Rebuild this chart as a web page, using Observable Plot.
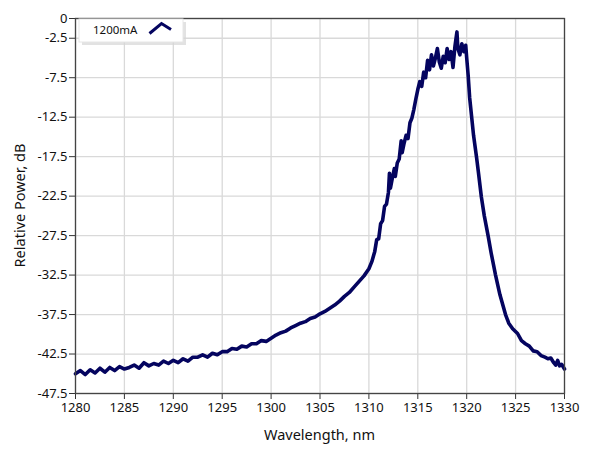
<!DOCTYPE html>
<html>
<head>
<meta charset="utf-8">
<script src="https://cdn.jsdelivr.net/npm/d3@7"></script>
<script src="https://cdn.jsdelivr.net/npm/@observablehq/plot@0.6"></script>
<style>
  html, body { margin: 0; padding: 0; background: #fff; }
  #chart { width: 589px; height: 456px; }
  svg { font-family: "Segoe UI", "Noto Sans", "Open Sans", sans-serif; }
</style>
</head>
<body>
<div id="chart"></div>
<script>
// ---- data ----
const seriesName = "1200mA";
const xLabel = "Wavelength, nm";
const yLabel = "Relative Power, dB";
const wavelength = [
  1280.0,1280.5,1281.0,1281.5,1282.0,1282.5,1283.0,1283.5,1284.0,1284.5,
  1285.0,1285.5,1286.0,1286.5,1287.0,1287.5,1288.0,1288.5,1289.0,1289.5,
  1290.0,1290.5,1291.0,1291.5,1292.0,1292.5,1293.0,1293.5,1294.0,1294.5,
  1295.0,1295.5,1296.0,1296.5,1297.0,1297.5,1298.0,1298.5,1299.0,1299.5,
  1300.0,1300.5,1301.0,1301.5,1302.0,1302.5,1303.0,1303.5,1304.0,1304.5,
  1305.0,1305.5,1306.0,1306.5,1307.0,1307.5,1308.0,1308.5,1309.0,1309.5,
  1310.0,1310.3,1310.6,1310.8,1311.0,1311.2,1311.4,1311.6,1311.8,1312.0,
  1312.1,1312.2,1312.4,1312.6,1312.7,1312.9,1313.1,1313.3,1313.4,1313.6,
  1313.8,1314.0,1314.2,1314.4,1314.6,1314.8,1315.0,1315.2,1315.4,1315.6,
  1315.8,1316.0,1316.2,1316.4,1316.6,1316.8,1317.0,1317.2,1317.4,1317.6,
  1317.8,1318.0,1318.2,1318.4,1318.6,1318.8,1319.0,1319.1,1319.3,1319.5,
  1319.7,1319.9,1320.0,1320.15,1320.3,1320.5,1320.7,1321.0,1321.2,1321.5,
  1321.8,1322.2,1322.5,1322.95,1323.4,1323.97,1324.3,1324.7,1325.2,1325.6,
  1326.0,1326.4,1326.8,1327.2,1327.6,1328.0,1328.3,1328.6,1328.9,1329.1,
  1329.3,1329.5,1329.7,1330.0
];
const power = [
  -45.0,-44.6,-45.1,-44.5,-44.9,-44.3,-44.8,-44.2,-44.6,-44.1,
  -44.4,-44.2,-43.9,-44.3,-43.6,-44.0,-43.7,-43.9,-43.4,-43.7,
  -43.3,-43.6,-43.1,-43.4,-42.9,-42.9,-42.6,-42.9,-42.4,-42.6,
  -42.2,-42.2,-41.8,-41.9,-41.5,-41.6,-41.2,-41.2,-40.8,-40.9,
  -40.5,-40.1,-39.8,-39.6,-39.2,-38.9,-38.6,-38.4,-38.0,-37.8,
  -37.4,-37.1,-36.7,-36.3,-35.8,-35.2,-34.7,-34.0,-33.3,-32.6,
  -31.7,-30.8,-29.5,-28.0,-27.9,-26.0,-25.6,-23.8,-23.5,-22.0,
  -19.6,-21.5,-20.2,-19.0,-20.0,-18.3,-17.8,-15.5,-17.0,-15.8,
  -14.8,-15.2,-13.2,-12.6,-11.5,-10.2,-9.0,-8.0,-8.6,-6.8,
  -7.5,-5.3,-6.5,-4.6,-6.0,-5.0,-3.8,-5.5,-6.3,-4.8,
  -5.6,-3.8,-5.2,-4.2,-6.2,-3.5,-1.7,-3.8,-4.6,-3.2,
  -4.2,-3.4,-5.0,-7.2,-10.0,-12.4,-14.8,-17.5,-19.5,-22.6,
  -25.0,-27.6,-29.7,-32.5,-35.0,-37.5,-38.6,-39.3,-39.9,-40.8,
  -41.2,-41.5,-42.1,-42.2,-42.7,-42.9,-43.1,-43.0,-43.6,-43.9,
  -43.3,-44.0,-43.8,-44.4
];
const xTicks = [1280,1285,1290,1295,1300,1305,1310,1315,1320,1325,1330];
const yTicks = [0,-2.5,-7.5,-12.5,-17.5,-22.5,-27.5,-32.5,-37.5,-42.5,-47.5];
const yTickLabels = ["0","-2.5","-7.5","-12.5","-17.5","-22.5","-27.5","-32.5","-37.5","-42.5","-47.5"];

const data = wavelength.map((w, i) => ({w, p: power[i]}));
const lineColor = "#04045f";
const W = 589, H = 456, mL = 75, mR = 25, mT = 18, mB = 63;

const plot = Plot.plot({
  width: W,
  height: H,
  marginLeft: mL,
  marginRight: mR,
  marginTop: mT,
  marginBottom: mB,
  style: {fontSize: "13px", fontFamily: '"Segoe UI","Noto Sans","Open Sans",sans-serif', color: "#111", background: "#fff"},
  x: {domain: [1280, 1330]},
  y: {domain: [-47.5, 0]},
  marks: [
    Plot.ruleX(xTicks, {stroke: "#d9d9d9", strokeWidth: 1.3}),
    Plot.ruleY(yTicks, {stroke: "#d9d9d9", strokeWidth: 1.3}),
    Plot.axisX({ticks: xTicks, tickFormat: d => String(d), tickSize: 6, tickPadding: 3,
      label: null, stroke: "#333"}),
    Plot.axisY({ticks: yTicks, tickFormat: d => yTickLabels[yTicks.indexOf(d)], tickSize: 6, tickPadding: 2,
      label: null, stroke: "#333"}),
    Plot.line(data, {x: "w", y: "p", stroke: lineColor, strokeWidth: 3.6, strokeLinejoin: "round", strokeLinecap: "round"}),
    Plot.frame({stroke: "#444", strokeWidth: 1.3})
  ]
});
document.getElementById("chart").appendChild(plot);

const svg = d3.select(plot);
// axis titles
svg.append("text").attr("x", (mL + W - mR) / 2).attr("y", 440)
  .attr("text-anchor", "middle").attr("font-size", "14.5px").attr("fill", "#111").text(xLabel);
svg.append("text").attr("transform", `translate(20,${(mT + H - mB) / 2}) rotate(-90)`)
  .attr("dy", "0.35em").attr("text-anchor", "middle").attr("font-size", "14.5px").attr("fill", "#111").text(yLabel);

// legend box (top-left inside plot)
const lg = svg.append("g").attr("class", "legend");
lg.append("rect").attr("x", 82).attr("y", 22).attr("width", 104).attr("height", 23)
  .attr("fill", "#d6d6d6").attr("opacity", 0.7);
lg.append("rect").attr("x", 79).attr("y", 19).attr("width", 104).attr("height", 23)
  .attr("fill", "#fff").attr("stroke", "#e6e6e6");
lg.append("text").attr("x", 93).attr("y", 34).attr("text-anchor", "start").attr("font-size", "11.5px").attr("fill", "#111")
  .text(seriesName);
lg.append("polyline").attr("points", "149.5,33.5 161.5,23.5 171,29.5")
  .attr("fill", "none").attr("stroke", lineColor).attr("stroke-width", 3);
</script>
</body>
</html>
